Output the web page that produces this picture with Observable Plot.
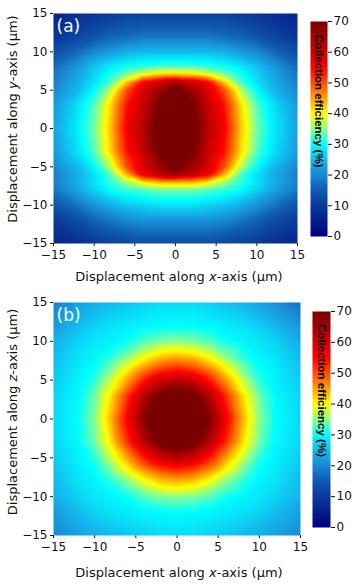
<!DOCTYPE html>
<html><head><meta charset="utf-8">
<script src="https://cdn.jsdelivr.net/npm/d3@7"></script>
<script src="https://cdn.jsdelivr.net/npm/@observablehq/plot@0.6"></script>
<style>
body{margin:0;background:#fff;}
#chart{position:relative;width:361px;height:586px;overflow:hidden;}
#chart svg{position:absolute;overflow:visible;}
</style></head><body><div id="chart"></div>
<script>
const xs = [-15,-12,-10,-8,-6,-4,-2,0,2,4,6,8,10,12,15];
const ys = [15,12,10,8,7,6,5,3,0,-3,-5,-6,-7,-8,-10,-12,-15];
const axisTicks = [-15,-10,-5,0,5,10,15];
const barTicks = [0,10,20,30,40,50,60,70];
const colorStops = [0,10,15,20,25,30,34,37,40,45,50,55,62,70];
const colorRange = ["#000080","#0a3a9a","#0f5ab0","#1a88d4","#12baee","#00ffff","#70ffa8","#c0ff50","#ffff00","#ffa000","#ff5000","#ff0000","#c00000","#7a0000"];
const barLabel = "Collection efficiency (%)";

// panel (a): x-y plane
const effA = [
 [6,8,9,10,11,11,11,11,11,11,11,10,9,8,6],
 [9,12,14,16,17,18,18,18,18,18,17,16,14,12,9],
 [13,17,20,22,24,25,25,25,25,25,24,22,20,17,13],
 [17,22,26,29,31,32,33,33,33,32,31,29,26,22,17],
 [18,23,27,31,35,40,43,44,43,40,35,31,27,23,18],
 [19,24,28,33,43,56,61,66,61,56,43,33,28,24,19],
 [20,25,30,37,50,59,66,72,66,59,50,37,30,25,20],
 [22,28,33,42,54,61,71,75,71,61,54,42,33,28,22],
 [23,29,34,43,56,63,74,75,74,63,56,43,34,29,23],
 [22,28,33,42,54,61,71,75,71,61,54,42,33,28,22],
 [20,25,30,37,50,59,66,72,66,59,50,37,30,25,20],
 [19,24,28,33,44,57,62,66,62,57,44,33,28,24,19],
 [19,24,28,32,36,41,44,44,44,41,36,32,28,24,19],
 [18,23,27,30,32,33,34,34,34,33,32,30,27,23,18],
 [14,18,21,24,26,27,28,28,28,27,26,24,21,18,14],
 [10,13,16,18,20,21,21,21,21,21,20,18,16,13,10],
 [6,8,10,11,12,13,13,13,13,13,12,11,10,8,6]
];
// panel (b): x-z plane
const effB = [
 [19,22.5,24,25,25.8,26.7,27.3,27.5,27.3,26.5,25.5,24.5,23,21,17],
 [22,25,26.9,28,28.7,29.4,29.8,30,29.8,29.4,28.7,28,26.5,24.5,21.5],
 [24,26.9,28.2,29.2,30.5,33,34.5,35,34.5,33,30.5,29.2,28.2,26.9,23.5],
 [25,28,29.2,31.5,35,39.5,43,44,43,39.5,35,31.5,29.2,28,25],
 [25.4,28.4,29.8,33.5,38,43.5,48,50,48,43.5,38,33.5,29.8,28.4,25.4],
 [25.8,28.7,30.5,35,41.5,49,54,56,54,49,41.5,35,30.5,28.7,25.8],
 [26.2,29,31.5,37.5,45,53.5,60,63,60,53.5,45,37.5,31.5,29,26.2],
 [27,29.6,34,41.5,52,63,72,75,72,63,52,41.5,34,29.6,27],
 [27.5,30,35,44,56,69,77,78,77,69,56,44,35,30,27.5],
 [27,29.6,34,41.5,52,63,72,75,72,63,52,41.5,34,29.6,27],
 [26.2,29,31.5,37.5,45,53.5,60,63,60,53.5,45,37.5,31.5,29,26.2],
 [25.8,28.7,30.5,35,41.5,49,54,56,54,49,41.5,35,30.5,28.7,25.8],
 [25.4,28.4,29.8,33.5,38,43.5,48,50,48,43.5,38,33.5,29.8,28.4,25.4],
 [25,28,29.2,31.5,35,39.5,43,44,43,39.5,35,31.5,29.2,28,25],
 [24,26.9,28.2,29.2,30.5,33,34.5,35,34.5,33,30.5,29.2,28.2,26.9,24.5],
 [22,25,26.9,28,28.7,29.4,29.8,30,29.8,29.4,28.7,28,26.9,25,22.5],
 [20,22.5,24,25,25.8,26.7,27.3,27.5,27.3,26.7,25.8,25,24,22.5,20.5]
];

const colorOpts = {type:"linear", domain: colorStops, range: colorRange, clamp: true, interpolate: "rgb"};
const chart = document.getElementById("chart");

function panel(grid, letter, yvar, cfg) {
  const data = [];
  ys.forEach((y, i) => xs.forEach((x, j) => data.push({x, y, v: grid[i][j]})));
  const H = cfg.height;
  const plot = Plot.plot({
    width: cfg.frameRight + 4, height: H,
    marginLeft: 53, marginRight: 4, marginTop: cfg.frameTop, marginBottom: H - cfg.frameBottom,
    style: {fontFamily: "DejaVu Sans", fontSize: "12px", color: "#111", background: "transparent"},
    x: {domain: [-15, 15], ticks: axisTicks, tickSize: 3, tickPadding: 4, label: null},
    y: {domain: [-15, 15], ticks: axisTicks, tickSize: 3, tickPadding: 3, label: null},
    color: colorOpts,
    marks: [
      Plot.raster(data, {x: "x", y: "y", fill: "v", interpolate: "barycentric", x1: -15, x2: 15, y1: -15, y2: 15}),
      Plot.text([letter], {frameAnchor: "top-left", textAnchor: "start", lineAnchor: "top", dx: 3, dy: 6, fill: "white", fontSize: 17, fontFamily: "DejaVu Sans"})
    ]
  });
  plot.style.left = "0px";
  plot.style.top = cfg.top + "px";
  const svg = d3.select(plot);
  const xt = svg.append("text").attr("x", 179).attr("y", cfg.xTitleY).attr("text-anchor", "middle")
    .attr("font-size", 13).attr("fill", "#111");
  xt.append("tspan").text("Displacement along ");
  xt.append("tspan").attr("font-style", "italic").text("x");
  xt.append("tspan").text("-axis (µm)");
  const yt = svg.append("text").attr("transform", `translate(17,${cfg.yTitleC}) rotate(-90)`).attr("text-anchor", "middle")
    .attr("font-size", 13).attr("fill", "#111");
  yt.append("tspan").text("Displacement along ");
  yt.append("tspan").attr("font-style", "italic").text(yvar);
  yt.append("tspan").text("-axis (µm)");
  chart.appendChild(plot);

  const bw = cfg.barRight - cfg.barLeft;
  const cb = Plot.plot({
    width: bw + 36, height: H,
    marginLeft: 0, marginRight: 36, marginTop: cfg.barTop, marginBottom: H - cfg.barBottom,
    style: {fontFamily: "DejaVu Sans", fontSize: "12px", color: "#111", background: "transparent"},
    x: {domain: [0, 1], axis: null},
    y: {domain: [0, 70], ticks: barTicks, axis: "right", tickSize: 4, tickPadding: 2, label: null},
    color: colorOpts,
    marks: [
      Plot.raster({x1: 0, x2: 1, y1: 0, y2: 70, fill: (x, y) => y}),
      Plot.text([barLabel], {frameAnchor: "middle", rotate: 90, dy: cfg.labelDy, fill: "black", fontWeight: "bold", fontFamily: "Liberation Sans", fontSize: 11.5})
    ]
  });
  cb.style.left = cfg.barLeft + "px";
  cb.style.top = cfg.top + "px";
  chart.appendChild(cb);
}

panel(effA, "(a)", "y", {top: 0, height: 288, frameTop: 13, frameBottom: 243, frameRight: 297,
  xTitleY: 281, yTitleC: 119, barLeft: 310, barRight: 327, barTop: 21, barBottom: 236, labelDy: -28});
panel(effB, "(b)", "z", {top: 289, height: 297, frameTop: 13, frameBottom: 246, frameRight: 300,
  xTitleY: 288, yTitleC: 123, barLeft: 312, barRight: 330, barTop: 22, barBottom: 238, labelDy: -29});
</script></body></html>
